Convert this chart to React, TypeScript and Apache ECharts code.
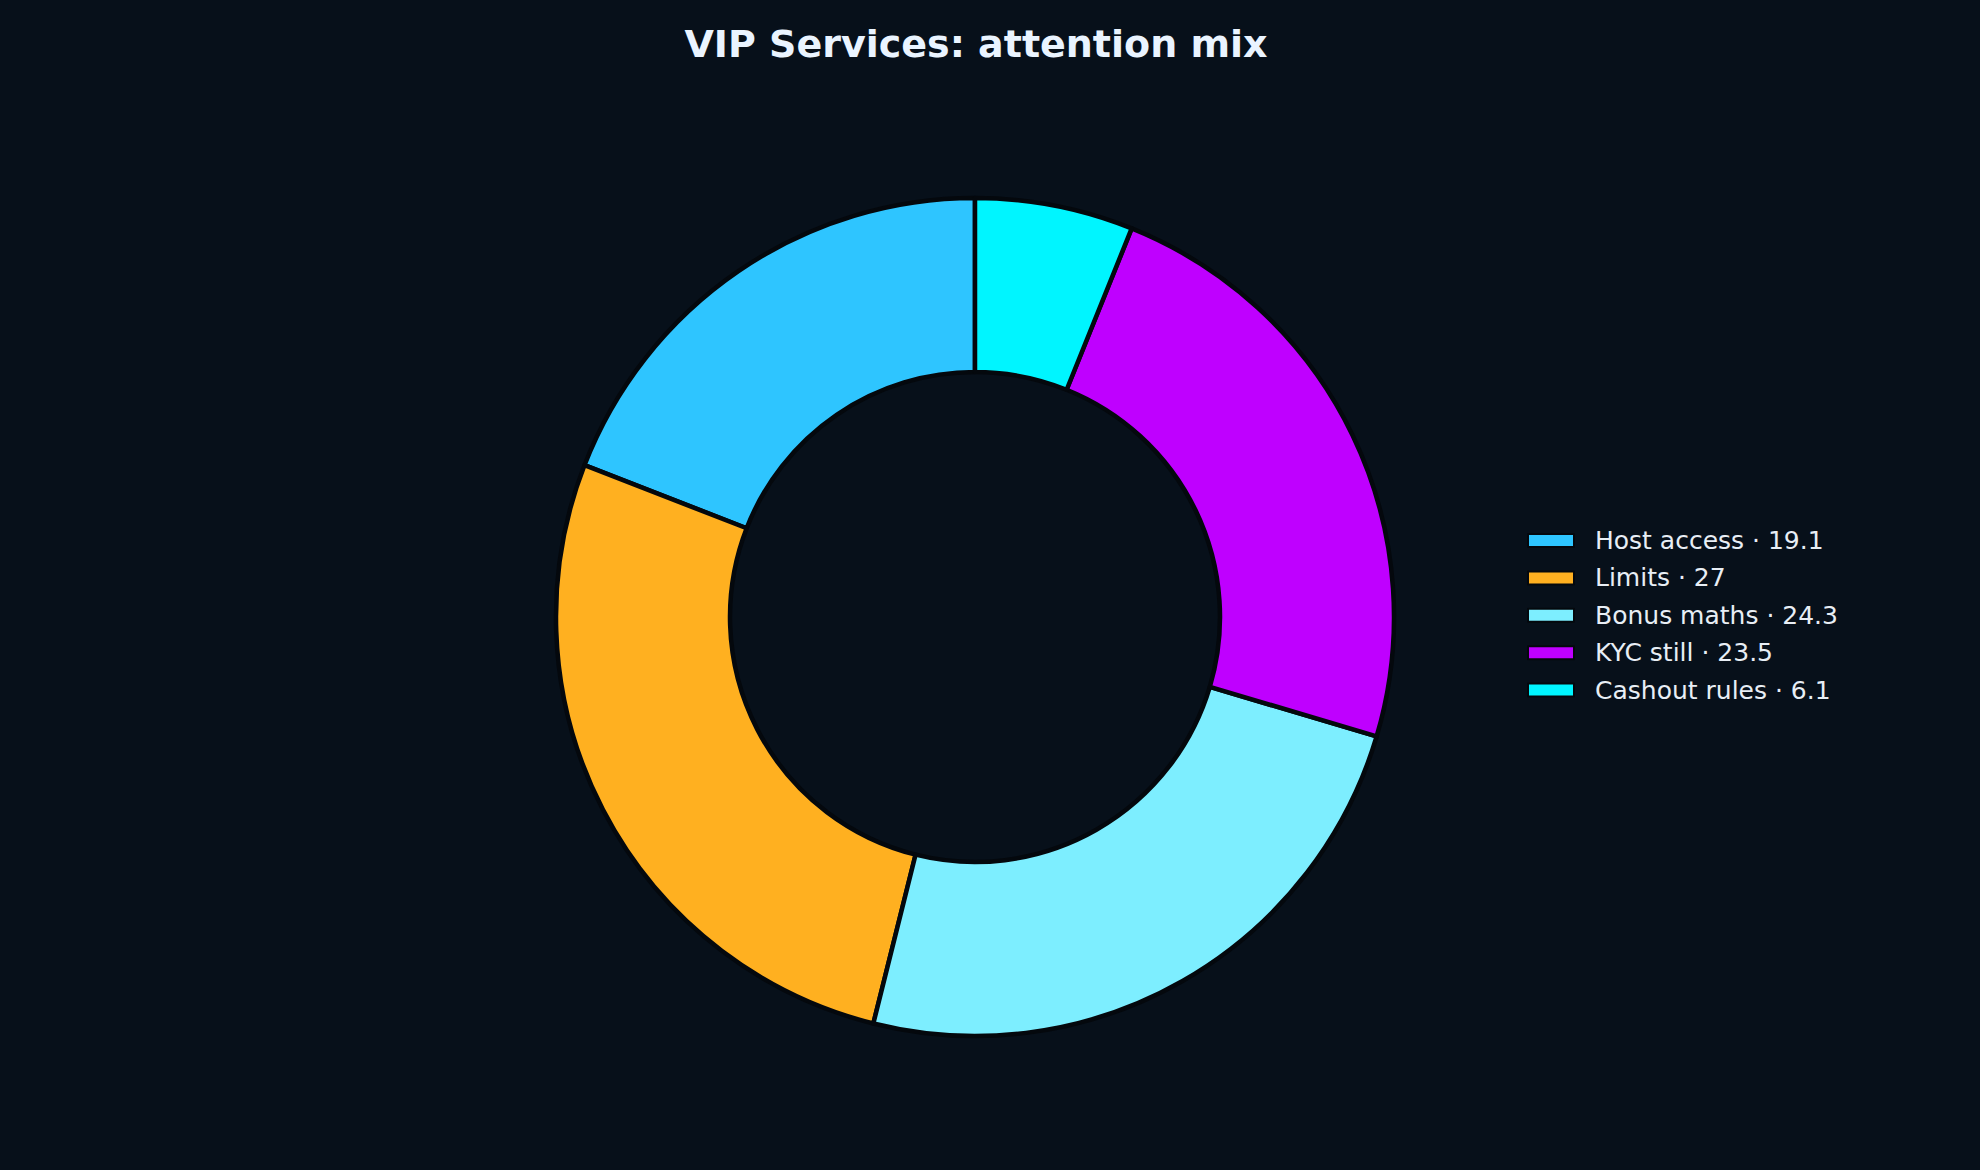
import { useEffect, useRef } from "react";
import * as echarts from "echarts";

const categories = ["Host access", "Limits", "Bonus maths", "KYC still", "Cashout rules"];
const values = [19.1, 27, 24.3, 23.5, 6.1];
const colors = ["#2EC5FF", "#FFB020", "#7DEEFF", "#BF00FF", "#00F5FF"];

const BG = "#07101A";

function App() {
  const chartRef = useRef(null);

  useEffect(() => {
    document.body.style.margin = "0";
    const chart = echarts.init(chartRef.current, null, { renderer: "svg" });

    const option = {
      animation: false,
      backgroundColor: BG,
      title: {
        text: "VIP Services: attention mix",
        left: 971,
        top: 20,
        textAlign: "center",
        textStyle: {
          color: "#EAF4FF",
          fontFamily: "DejaVu Sans",
          fontWeight: "bold",
          fontSize: 38,
        },
      },
      legend: {
        orient: "vertical",
        left: 1522,
        top: 523,
        itemWidth: 46,
        itemHeight: 13,
        itemGap: 12.4,
        icon: "rect",
        formatter: (name: string) => {
          const i = categories.indexOf(name);
          return `${name} · ${values[i]}`;
        },
        textStyle: {
          color: "#E8EEF5",
          fontFamily: "DejaVu Sans",
          fontSize: 25,
          lineHeight: 25,
          padding: [0, 0, 0, 16],
        },
      },
      series: [
        {
          type: "pie",
          center: [975, 617],
          radius: [245, 419],
          startAngle: 90,
          clockwise: false,
          label: { show: false },
          labelLine: { show: false },
          itemStyle: { borderColor: "#04080D", borderWidth: 4.5 },
          data: categories.map((name, i) => ({
            name,
            value: values[i],
            itemStyle: { color: colors[i] },
          })),
        },
      ],
    };

    chart.setOption(option);

    return () => {
      chart.dispose();
    };
  }, []);

  return <div ref={chartRef} style={{ width: "1980px", height: "1170px" }} />;
}

export default App;
